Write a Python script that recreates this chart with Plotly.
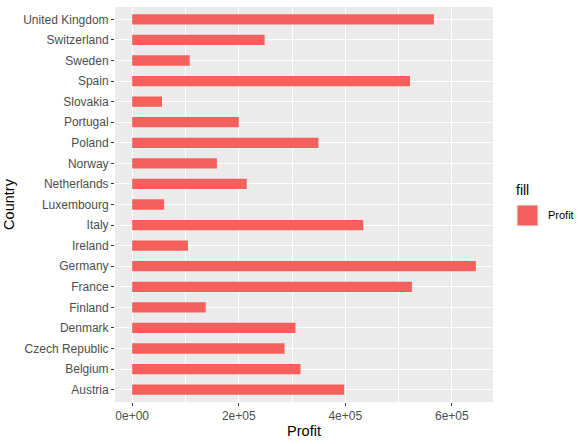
import plotly.graph_objects as go

# Data
countries = [
    "Austria", "Belgium", "Czech Republic", "Denmark", "Finland", "France",
    "Germany", "Ireland", "Italy", "Luxembourg", "Netherlands", "Norway",
    "Poland", "Portugal", "Slovakia", "Spain", "Sweden", "Switzerland",
    "United Kingdom",
]
profit = [
    398000, 316000, 286000, 306500, 138000, 525000,
    645000, 104700, 433600, 60000, 215000, 159000,
    349500, 200000, 56000, 521500, 108000, 248600,
    566400,
]
x_ticks = [0, 200000, 400000, 600000]
x_tick_labels = ["0e+00", "2e+05", "4e+05", "6e+05"]

BAR_COLOR = "#F5605C"
PANEL_BG = "#EBEBEB"
TICK_COLOR = "#4D4D4D"
FONT = "Liberation Sans, Arial, sans-serif"

fig = go.Figure(
    go.Bar(
        x=profit,
        y=countries,
        orientation="h",
        width=0.5,
        name="Profit",
        marker=dict(color=BAR_COLOR, line=dict(width=0)),
        showlegend=False,
    )
)

# ggplot-style legend drawn by hand (key box is bigger than plotly's icon)
fig.add_shape(
    type="rect", xref="paper", yref="paper",
    x0=1.0635, x1=1.119, y0=0.4456, y1=0.4987,
    fillcolor=BAR_COLOR, line=dict(color="#F2F2F2", width=1),
)
fig.add_annotation(
    text="fill", xref="paper", yref="paper", x=1.056, y=0.537,
    xanchor="left", yanchor="middle", showarrow=False,
    font=dict(size=14, color="black"),
)
fig.add_annotation(
    text="Profit", xref="paper", yref="paper", x=1.140, y=0.473,
    xanchor="left", yanchor="middle", showarrow=False,
    font=dict(size=11, color="black"),
)

fig.update_layout(
    width=588,
    height=444,
    paper_bgcolor="white",
    plot_bgcolor=PANEL_BG,
    margin=dict(l=115, r=95, t=7, b=42),
    font=dict(family=FONT, color=TICK_COLOR, size=12),
    xaxis=dict(
        range=[-32250, 677250],
        tickvals=x_ticks,
        ticktext=x_tick_labels,
        showgrid=True,
        gridcolor="white",
        gridwidth=1.1,
        zeroline=False,
        ticks="outside",
        ticklen=3,
        tickcolor="#333333",
        tickfont=dict(size=12, color=TICK_COLOR),
        minor=dict(dtick=100000, tick0=100000, showgrid=True,
                   gridcolor="white", gridwidth=0.5),
        title=dict(text="Profit", font=dict(size=14.5, color="black"), standoff=3),
        fixedrange=True,
    ),
    yaxis=dict(
        categoryorder="array",
        categoryarray=countries,
        range=[-0.6, 18.6],
        showgrid=True,
        gridcolor="white",
        gridwidth=1.1,
        zeroline=False,
        ticks="outside",
        ticklen=3,
        tickcolor="#333333",
        tickfont=dict(size=12, color=TICK_COLOR),
        title=dict(text="Country", font=dict(size=14.5, color="black"), standoff=5),
        fixedrange=True,
    ),
    showlegend=False,
)

fig.write_html(
    "out.html",
    config={"displayModeBar": False},
    post_script="document.body.style.margin='0';document.body.style.overflow='hidden';",
)
